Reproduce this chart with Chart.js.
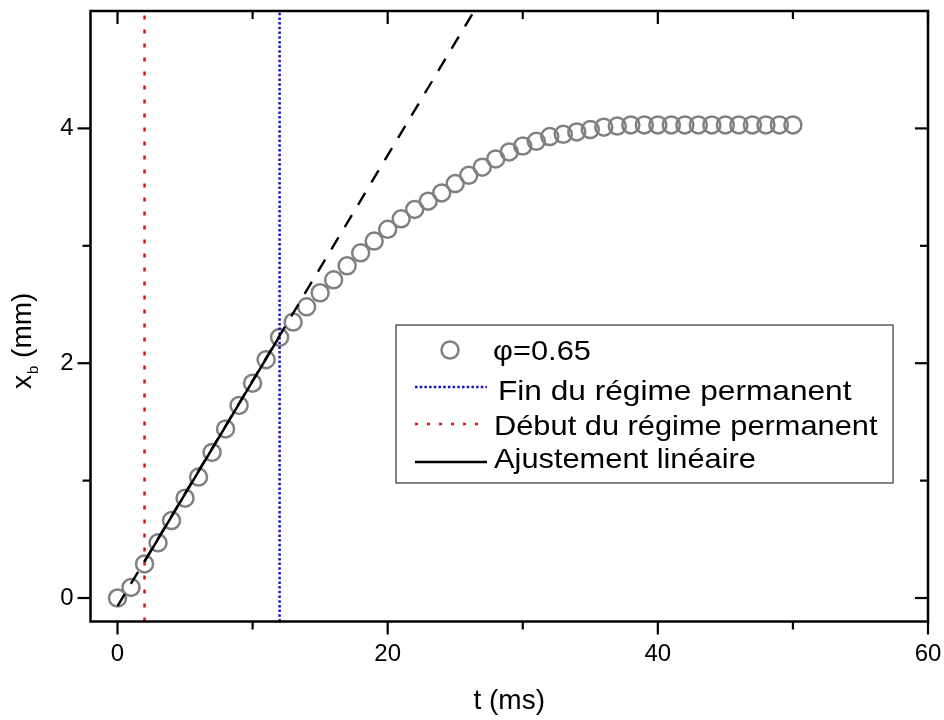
<!DOCTYPE html>
<html>
<head>
<meta charset="utf-8">
<script src="https://cdn.jsdelivr.net/npm/chart.js@4.4.1/dist/chart.umd.min.js"></script>
<style>
  html, body { margin: 0; padding: 0; background: #fff; }
  #wrap { width: 944px; height: 720px; }
</style>
</head>
<body>
<div id="wrap"><canvas id="chart" width="944" height="720"></canvas></div>
<script>
// time (ms) and front position x_b (mm)
const tValues = [0, 1, 2, 3, 4, 5, 6, 7, 8, 9, 10, 11, 12, 13, 14, 15, 16, 17, 18, 19, 20,
  21, 22, 23, 24, 25, 26, 27, 28, 29, 30, 31, 32, 33, 34, 35, 36, 37, 38, 39, 40,
  41, 42, 43, 44, 45, 46, 47, 48, 49, 50];
const xbValues = [0.00, 0.09, 0.29, 0.47, 0.66, 0.85, 1.03, 1.24, 1.44, 1.64, 1.83,
  2.03, 2.22, 2.35, 2.48, 2.60, 2.71, 2.83, 2.94, 3.04, 3.14,
  3.23, 3.31, 3.38, 3.45, 3.53, 3.60, 3.67, 3.74, 3.80, 3.85,
  3.89, 3.93, 3.95, 3.97, 3.99, 4.01, 4.02, 4.03, 4.03, 4.03,
  4.03, 4.03, 4.03, 4.03, 4.03, 4.03, 4.03, 4.03, 4.03, 4.03];

// linear fit: solid over the steady regime, dashed extension
const fitSolidT = [2, 12];
const fitSolidX = [0.31, 2.23];
const fitDashT = [0, 26.4];
const fitDashX = [-0.07, 5.0];

// start / end of the steady regime (ms)
const debutT = 2;
const finT = 12;

// axes
const xMin = -2, xMax = 60;
const yMin = -0.2, yMax = 5;
const xMajorTicks = [0, 20, 40, 60];
const xMinorTicks = [10, 30, 50];
const yMajorTicks = [0, 2, 4];
const yMinorTicks = [1, 3];

const legendLabels = ['\u03C6=0.65', 'Fin du r\u00E9gime permanent', 'D\u00E9but du r\u00E9gime permanent', 'Ajustement lin\u00E9aire'];

const POINT_GREY = '#808080';
const BLUE = '#1414c8';
const RED = '#d01818';
const FONT = '"Liberation Sans", Arial, sans-serif';

function pairs(xs, ys) {
  return xs.map((x, i) => ({ x: x, y: ys[i] }));
}

function noScalePadding(s) {
  s.paddingTop = 0; s.paddingBottom = 0; s.paddingLeft = 0; s.paddingRight = 0;
}

// frame with ticks, y title with subscript and the boxed legend
const framePlugin = {
  id: 'framePlugin',
  afterDraw(chart) {
    const ctx = chart.ctx;
    const a = chart.chartArea;
    const xs = chart.scales.x, ys = chart.scales.y;
    ctx.save();
    ctx.strokeStyle = '#000';
    ctx.lineWidth = 2.5;
    ctx.strokeRect(a.left, a.top, a.right - a.left, a.bottom - a.top);
    ctx.lineWidth = 2.2;
    const seg = (x1, y1, x2, y2) => { ctx.beginPath(); ctx.moveTo(x1, y1); ctx.lineTo(x2, y2); ctx.stroke(); };
    xMajorTicks.forEach(v => { const p = xs.getPixelForValue(v); seg(p, a.bottom, p, a.bottom + 13); seg(p, a.top, p, a.top + 13); });
    xMinorTicks.forEach(v => { const p = xs.getPixelForValue(v); seg(p, a.bottom, p, a.bottom + 8); seg(p, a.top, p, a.top + 8); });
    yMajorTicks.forEach(v => { const p = ys.getPixelForValue(v); seg(a.left, p, a.left - 13, p); seg(a.right, p, a.right - 13, p); });
    yMinorTicks.forEach(v => { const p = ys.getPixelForValue(v); seg(a.left, p, a.left - 8, p); seg(a.right, p, a.right - 8, p); });

    // y title: x_b (mm)
    ctx.translate(23, 389);
    ctx.rotate(-Math.PI / 2);
    ctx.fillStyle = '#000';
    ctx.textBaseline = 'middle';
    ctx.textAlign = 'left';
    ctx.font = '28px ' + FONT;
    ctx.fillText('x', 0, 0);
    let w = ctx.measureText('x').width;
    ctx.font = '15px ' + FONT;
    ctx.fillText('b', w + 1, 11);
    w += ctx.measureText('b').width + 1;
    ctx.font = '28px ' + FONT;
    ctx.fillText(' (mm)', w, 0);
    ctx.restore();

    // legend
    ctx.save();
    const L = 396, T = 325, R = 893, B = 483;
    ctx.fillStyle = '#fff';
    ctx.fillRect(L, T, R - L, B - T);
    ctx.strokeStyle = '#333';
    ctx.lineWidth = 1.2;
    ctx.strokeRect(L, T, R - L, B - T);

    ctx.strokeStyle = POINT_GREY;
    ctx.lineWidth = 2.5;
    ctx.beginPath(); ctx.arc(450, 350, 8.5, 0, Math.PI * 2); ctx.stroke();

    const sample = (y, color, dash, width) => {
      ctx.strokeStyle = color; ctx.lineWidth = width; ctx.setLineDash(dash);
      ctx.beginPath(); ctx.moveTo(415, y); ctx.lineTo(487, y); ctx.stroke();
      ctx.setLineDash([]);
    };
    sample(387, BLUE, [2.5, 2.2], 2.5);
    sample(424, RED, [3, 9], 2.5);
    sample(462, '#000', [], 2.5);

    ctx.fillStyle = '#000';
    ctx.font = '28px ' + FONT;
    ctx.textBaseline = 'alphabetic';
    ctx.textAlign = 'left';
    const txt = (s, x, y, sx) => {
      ctx.save(); ctx.translate(x, y); ctx.scale(sx, 1); ctx.fillText(s, 0, 0); ctx.restore();
    };
    txt(legendLabels[0], 493, 360, 1.1);
    txt(legendLabels[1], 498, 400, 1.13);
    txt(legendLabels[2], 494, 435, 1.1);
    txt(legendLabels[3], 494, 468, 1.1);
    ctx.restore();
  }
};

const ctx = document.getElementById('chart');
new Chart(ctx, {
  type: 'scatter',
  data: {
    datasets: [
      {
        label: 'Ajustement lin\u00E9aire',
        data: pairs(fitSolidT, fitSolidX),
        showLine: true,
        borderColor: '#000',
        borderWidth: 2.5,
        pointRadius: 0
      },
      {
        label: 'extension',
        data: pairs(fitDashT, fitDashX),
        showLine: true,
        borderColor: '#000',
        borderWidth: 2.4,
        borderDash: [14, 12],
        pointRadius: 0
      },
      {
        label: 'Fin du r\u00E9gime permanent',
        data: pairs([finT, finT], [yMin, yMax]),
        showLine: true,
        borderColor: BLUE,
        borderWidth: 2.5,
        borderDash: [2.5, 2.2],
        pointRadius: 0
      },
      {
        label: 'D\u00E9but du r\u00E9gime permanent',
        data: pairs([debutT, debutT], [yMin, yMax]),
        showLine: true,
        borderColor: RED,
        borderWidth: 2.5,
        borderDash: [4, 10],
        pointRadius: 0
      },
      {
        label: '\u03C6=0.65',
        data: pairs(tValues, xbValues),
        pointStyle: 'circle',
        pointRadius: 8.5,
        borderWidth: 2.5,
        borderColor: POINT_GREY,
        backgroundColor: 'rgba(0,0,0,0)'
      }
    ]
  },
  options: {
    responsive: false,
    animation: false,
    layout: { padding: { left: 0, right: 16, top: 5, bottom: 0 } },
    plugins: {
      legend: { display: false },
      tooltip: { enabled: false }
    },
    scales: {
      x: {
        type: 'linear',
        min: xMin,
        max: xMax,
        grid: { display: false, drawTicks: false },
        border: { display: false },
        afterBuildTicks: s => { s.ticks = xMajorTicks.map(v => ({ value: v })); },
        afterFit: s => { s.height = 98.5; noScalePadding(s); },
        ticks: { color: '#000', padding: 18, maxRotation: 0, font: { size: 24, family: FONT } },
        title: { display: true, text: 't (ms)', color: '#000', padding: { top: 0, bottom: 2 }, font: { size: 28, family: FONT } }
      },
      y: {
        type: 'linear',
        min: yMin,
        max: yMax,
        grid: { display: false, drawTicks: false },
        border: { display: false },
        afterBuildTicks: s => { s.ticks = yMajorTicks.map(v => ({ value: v })); },
        afterFit: s => { s.width = 90.5; noScalePadding(s); },
        ticks: { color: '#000', padding: 17, font: { size: 24, family: FONT } }
      }
    }
  },
  plugins: [framePlugin]
});
</script>
</body>
</html>
